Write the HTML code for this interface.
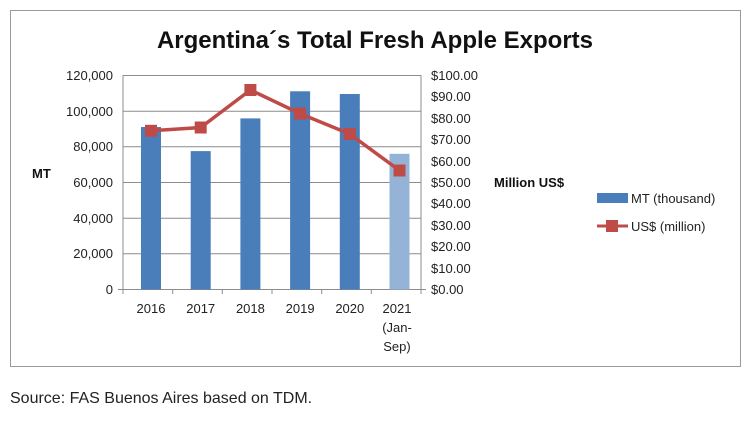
<!DOCTYPE html>
<html><head><style>
body{margin:0;background:#fff;}
svg{display:block;font-family:"Liberation Sans",sans-serif;}
</style></head><body>
<svg width="750" height="424" viewBox="0 0 750 424">
<rect x="10.5" y="10.5" width="730" height="356" fill="#fff" stroke="#9a9a9a" stroke-width="1"/>
<text x="375" y="48" text-anchor="middle" font-size="24" font-weight="bold" fill="#111">Argentina´s Total Fresh Apple Exports</text>
<g stroke="#8c8c8c" stroke-width="1">
<line x1="123" y1="75.5" x2="421" y2="75.5"/>
<line x1="123" y1="111.2" x2="421" y2="111.2"/>
<line x1="123" y1="146.8" x2="421" y2="146.8"/>
<line x1="123" y1="182.5" x2="421" y2="182.5"/>
<line x1="123" y1="218.2" x2="421" y2="218.2"/>
<line x1="123" y1="253.8" x2="421" y2="253.8"/>
<line x1="118" y1="289.5" x2="426" y2="289.5"/>
<line x1="123" y1="75" x2="123" y2="294"/>
<line x1="421" y1="75" x2="421" y2="294"/>
<line x1="172.7" y1="289.5" x2="172.7" y2="294"/>
<line x1="222.3" y1="289.5" x2="222.3" y2="294"/>
<line x1="272" y1="289.5" x2="272" y2="294"/>
<line x1="321.7" y1="289.5" x2="321.7" y2="294"/>
<line x1="371.3" y1="289.5" x2="371.3" y2="294"/>
</g>
<g fill="#4a7ebb">
<rect x="141" y="127" width="20" height="162.5"/>
<rect x="190.7" y="151.1" width="20" height="138.4"/>
<rect x="240.4" y="118.4" width="20" height="171.1"/>
<rect x="290.1" y="91.3" width="20" height="198.2"/>
<rect x="339.8" y="94" width="20" height="195.5"/>
<rect x="389.5" y="153.8" width="20" height="135.7" fill="#95b3d7"/>
</g>
<polyline points="151,130.8 200.7,127.5 250.4,90 300.1,113.6 349.8,134 399.5,170.5" fill="none" stroke="#be4b48" stroke-width="3.5"/>
<g fill="#be4b48">
<rect x="145" y="124.8" width="12" height="12"/>
<rect x="194.7" y="121.5" width="12" height="12"/>
<rect x="244.4" y="84" width="12" height="12"/>
<rect x="294.1" y="107.6" width="12" height="12"/>
<rect x="343.8" y="128" width="12" height="12"/>
<rect x="393.5" y="164.5" width="12" height="12"/>
</g>
<g font-size="13" fill="#222" text-anchor="end">
<text x="113" y="80">120,000</text>
<text x="113" y="116">100,000</text>
<text x="113" y="151">80,000</text>
<text x="113" y="187">60,000</text>
<text x="113" y="223">40,000</text>
<text x="113" y="258">20,000</text>
<text x="113" y="294">0</text>
</g>
<g font-size="13" fill="#222">
<text x="431" y="80">$100.00</text>
<text x="431" y="101">$90.00</text>
<text x="431" y="123">$80.00</text>
<text x="431" y="144">$70.00</text>
<text x="431" y="166">$60.00</text>
<text x="431" y="187">$50.00</text>
<text x="431" y="208">$40.00</text>
<text x="431" y="230">$30.00</text>
<text x="431" y="251">$20.00</text>
<text x="431" y="273">$10.00</text>
<text x="431" y="294">$0.00</text>
</g>
<g font-size="13" fill="#222" text-anchor="middle">
<text x="151" y="313">2016</text>
<text x="200.7" y="313">2017</text>
<text x="250.4" y="313">2018</text>
<text x="300.1" y="313">2019</text>
<text x="349.8" y="313">2020</text>
<text x="397" y="313">2021</text>
<text x="397" y="332">(Jan-</text>
<text x="397" y="351">Sep)</text>
</g>
<text x="32" y="178" font-size="13" font-weight="bold" fill="#111">MT</text>
<text x="494" y="187" font-size="13" font-weight="bold" fill="#111">Million US$</text>
<rect x="597" y="193" width="31" height="10" fill="#4a7ebb"/>
<text x="631" y="203" font-size="13" fill="#222">MT (thousand)</text>
<line x1="597" y1="226" x2="628" y2="226" stroke="#be4b48" stroke-width="3"/>
<rect x="606" y="220" width="12" height="12" fill="#be4b48"/>
<text x="631" y="231" font-size="13" fill="#222">US$ (million)</text>
<text x="10" y="403" font-size="16" fill="#222">Source: FAS Buenos Aires based on TDM.</text>
</svg>
</body></html>
